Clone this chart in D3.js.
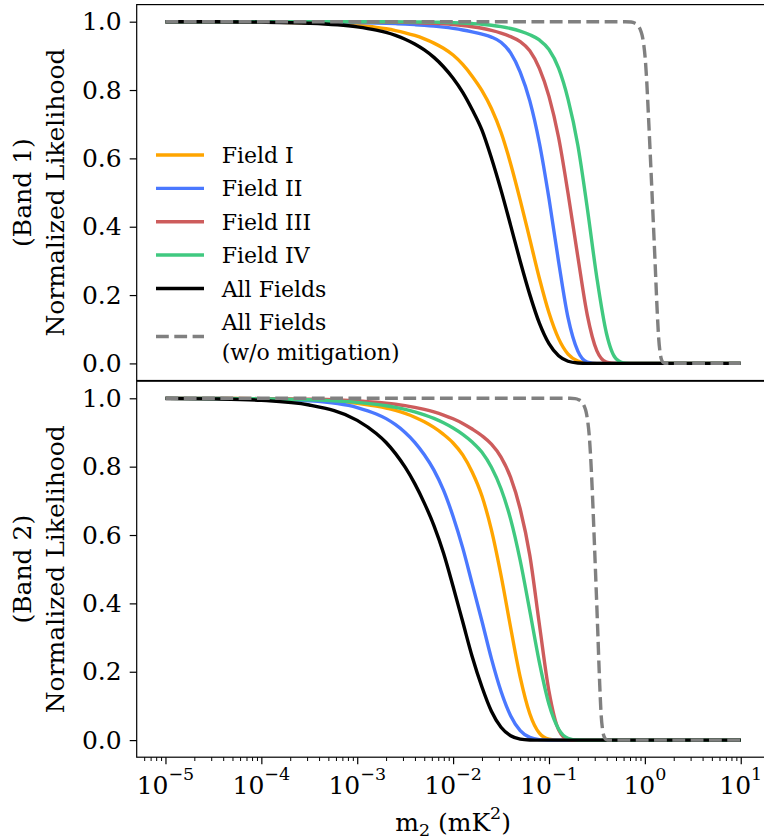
<!DOCTYPE html>
<html>
<head>
<meta charset="utf-8">
<script src="https://cdn.jsdelivr.net/npm/d3@7/dist/d3.min.js"></script>
<style>
  body { margin: 0; background: #ffffff; }
  svg { display: block; font-family: "DejaVu Serif", serif; }
</style>
</head>
<body>
<div id="chart"></div>
<script>
// m2 (mK^2) sample points shared by the field curves
const m2Grid = [1e-5, 3.16e-5, 1e-4, 3.16e-4, 1e-3, 0.00158, 0.002, 0.00251, 0.00316, 0.00398, 0.00501, 0.00631, 0.00794,
    0.01, 0.0126, 0.0158, 0.02, 0.0251, 0.0316, 0.0398, 0.0501, 0.0631, 0.0794,
    0.1, 0.126, 0.158, 0.2, 0.251, 0.316, 0.398, 0.501, 0.631, 0.794, 1, 10];

// Band 1 normalized likelihoods
const b1FieldI = [0.9999, 0.9996, 0.9989, 0.9965, 0.9894, 0.9834, 0.9792, 0.974, 0.9675, 0.9596, 0.9495, 0.9373, 0.9221,
    0.9023, 0.8748, 0.8405, 0.7982, 0.7459, 0.6763, 0.5845, 0.478, 0.3637, 0.2491,
    0.1481, 0.0725, 0.0272, 0.0071, 0.0011, 0, 0, 0, 0, 0, 0, 0];
const b1FieldII = [1, 0.9999, 0.9997, 0.9991, 0.9976, 0.9963, 0.9954, 0.9944, 0.9931, 0.9914, 0.9894, 0.987, 0.984,
    0.9803, 0.9758, 0.9702, 0.9634, 0.955, 0.94, 0.9086, 0.8526, 0.7683, 0.645,
    0.4824, 0.2976, 0.1339, 0.036, 0.004, 0, 0, 0, 0, 0, 0, 0];
const b1FieldIII = [1, 1, 0.9999, 0.9999, 0.9995, 0.9991, 0.9988, 0.9984, 0.9979, 0.9972, 0.9963, 0.9951, 0.9936,
    0.9915, 0.9888, 0.9853, 0.9807, 0.9746, 0.9667, 0.9563, 0.9419, 0.9151, 0.8636,
    0.7815, 0.661, 0.498, 0.312, 0.1413, 0.0366, 0.0038, 0, 0, 0, 0, 0];
const b1FieldIV = [1, 1, 1, 1, 0.9999, 0.9998, 0.9997, 0.9996, 0.9995, 0.9993, 0.999, 0.9986, 0.998,
    0.9972, 0.9961, 0.9946, 0.9926, 0.9897, 0.9856, 0.98, 0.9723, 0.9617, 0.9465,
    0.9184, 0.8639, 0.7734, 0.6383, 0.4543, 0.2501, 0.0875, 0.0138, 0.0006, 0, 0, 0];
const b1All = [0.9999, 0.9996, 0.9987, 0.9956, 0.9848, 0.9752, 0.9684, 0.9597, 0.9488, 0.9347, 0.9173, 0.8955, 0.8682,
    0.8344, 0.7932, 0.7429, 0.6825, 0.601, 0.507, 0.404, 0.299, 0.2013, 0.1179,
    0.0578, 0.0223, 0.0063, 0.0012, 0, 0, 0, 0, 0, 0, 0, 0];
// without mitigation: much sharper drop, sampled on its own points
const b1NoMit_m = [1e-5, 0.623, 0.719, 0.782, 0.841, 0.893, 0.937, 0.9716, 1.007, 1.044, 1.09, 1.178, 1.281, 1.344, 1.393, 1.444, 1.497, 1.571, 1.668, 10];
const b1NoMit = [1, 1, 0.999, 0.996, 0.99, 0.978, 0.96, 0.935, 0.895, 0.83, 0.725, 0.52, 0.29, 0.155, 0.075, 0.03, 0.01, 0.002, 0, 0];

// Band 2
const b2FieldI = [0.9998, 0.9995, 0.9984, 0.9952, 0.9854, 0.9771, 0.9715, 0.9644, 0.9556, 0.9447, 0.9312, 0.9147, 0.8944,
    0.8693, 0.8344, 0.7844, 0.714, 0.6148, 0.4822, 0.3296, 0.1845, 0.0772, 0.0203,
    0.0027, 0, 0, 0, 0, 0, 0, 0, 0, 0, 0, 0];
const b2FieldII = [0.9999, 0.9995, 0.9981, 0.9929, 0.973, 0.9541, 0.9405, 0.9227, 0.9, 0.8712, 0.8348, 0.7899, 0.7314,
    0.6542, 0.5623, 0.4579, 0.3478, 0.2385, 0.1431, 0.0715, 0.0279, 0.0079, 0.0014,
    0, 0, 0, 0, 0, 0, 0, 0, 0, 0, 0, 0];
const b2FieldIII = [0.9999, 0.9997, 0.9991, 0.9973, 0.9924, 0.9885, 0.9858, 0.9826, 0.9785, 0.9736, 0.9675, 0.9601, 0.951,
    0.94, 0.9265, 0.9101, 0.8905, 0.8658, 0.828, 0.7684, 0.6762, 0.5404, 0.3386,
    0.143, 0.0304, 0.0019, 0, 0, 0, 0, 0, 0, 0, 0, 0];
const b2FieldIV = [0.9998, 0.9994, 0.9984, 0.9957, 0.9881, 0.9822, 0.9783, 0.9735, 0.9676, 0.9604, 0.9517, 0.9413, 0.9285,
    0.9131, 0.8946, 0.8722, 0.8421, 0.7982, 0.7353, 0.6465, 0.5255, 0.3778, 0.2273,
    0.1049, 0.0324, 0.0054, 0.0004, 0, 0, 0, 0, 0, 0, 0, 0];
const b2All = [0.9995, 0.9982, 0.9941, 0.9803, 0.9353, 0.8969, 0.8707, 0.8382, 0.7984, 0.7504, 0.6934, 0.6277, 0.5474,
    0.4494, 0.3461, 0.2446, 0.1552, 0.0843, 0.0376, 0.0129, 0.0031, 0.0005, 0,
    0, 0, 0, 0, 0, 0, 0, 0, 0, 0, 0, 0];
const b2NoMit_m = [1e-5, 0.1661, 0.1873, 0.2037, 0.2189, 0.2325, 0.2439, 0.2529, 0.2622, 0.2718, 0.2818, 0.2992, 0.3216, 0.3374, 0.3498, 0.3627, 0.376, 0.3945, 0.4238, 10];
const b2NoMit = [1, 1, 0.999, 0.996, 0.99, 0.978, 0.96, 0.935, 0.895, 0.83, 0.74, 0.56, 0.33, 0.17, 0.075, 0.03, 0.01, 0.002, 0, 0];

// ticks and legend
const yTicks = [0, 0.2, 0.4, 0.6, 0.8, 1.0];
const xDecades = [-5, -4, -3, -2, -1, 0, 1];
const seriesNames = ["Field I", "Field II", "Field III", "Field IV", "All Fields", "All Fields\n(w/o mitigation)"];
const seriesColors = ["#ffa500", "#4a78ff", "#cd5c5c", "#40c980", "#000000", "#808080"];

const band1 = [
    [m2Grid, b1FieldI], [m2Grid, b1FieldII], [m2Grid, b1FieldIII],
    [m2Grid, b1FieldIV], [m2Grid, b1All], [b1NoMit_m, b1NoMit]
];
const band2 = [
    [m2Grid, b2FieldI], [m2Grid, b2FieldII], [m2Grid, b2FieldIII],
    [m2Grid, b2FieldIV], [m2Grid, b2All], [b2NoMit_m, b2NoMit]
];

const width = 764, height = 839;
const fontSize = 25;
const left = 136.7, right = 769.5;   // right spine falls just outside the crop

const panels = [
    { top: 4.6, bottom: 380.5, label: "(Band 1)", data: band1 },
    { top: 381.2, bottom: 757.2, label: "(Band 2)", data: band2 }
];

const svg = d3.select("#chart")
    .append("svg")
    .attr("width", width)
    .attr("height", height);

// log x with 5% padding either side
const x = d3.scaleLog()
    .domain([Math.pow(10, -5.3), Math.pow(10, 1.3)])
    .range([left, right]);

panels.forEach((p, pi) => {
    const y = d3.scaleLinear()
        .domain([-0.05, 1.05])
        .range([p.bottom, p.top]);

    const g = svg.append("g");

    const line = d3.line()
        .x(d => x(d[0]))
        .y(d => y(d[1]))
        .curve(d3.curveMonotoneX);

    // curves
    p.data.forEach((s, i) => {
        const pts = s[0].map((m, k) => [m, s[1][k]]);
        g.append("path")
            .datum(pts)
            .attr("d", line)
            .attr("fill", "none")
            .attr("stroke", seriesColors[i])
            .attr("stroke-width", 3.4)
            .attr("stroke-linejoin", "round")
            .attr("stroke-dasharray", i === 5 ? "12.8,5.5" : null);
    });

    // frame
    g.append("rect")
        .attr("x", left)
        .attr("y", p.top)
        .attr("width", right - left)
        .attr("height", p.bottom - p.top)
        .attr("fill", "none")
        .attr("stroke", "#000")
        .attr("stroke-width", 1.2);

    // y axis
    const yAxis = g.append("g")
        .attr("transform", "translate(" + left + ",0)")
        .call(d3.axisLeft(y).tickValues(yTicks).tickFormat(d3.format(".1f")).tickSize(7).tickPadding(8));
    yAxis.select(".domain").remove();
    yAxis.selectAll("line").attr("stroke-width", 1.2);
    yAxis.selectAll("text")
        .attr("font-size", fontSize)
        .attr("font-family", "DejaVu Serif")
        .attr("fill", "#000");

    // y label on two lines
    const cy = (p.top + p.bottom) / 2;
    g.append("text")
        .attr("transform", "translate(31," + cy + ") rotate(-90)")
        .attr("text-anchor", "middle")
        .attr("font-size", fontSize)
        .text(p.label);
    g.append("text")
        .attr("transform", "translate(64," + cy + ") rotate(-90)")
        .attr("text-anchor", "middle")
        .attr("font-size", fontSize)
        .text("Normalized Likelihood");

    // x axis only under the bottom panel
    if (pi === 1) {
        const minor = [];
        for (let e = -6; e <= 1; e++) {
            for (let k = 2; k <= 9; k++) {
                const v = k * Math.pow(10, e);
                if (v > x.domain()[0] && v < x.domain()[1]) minor.push(v);
            }
        }
        const xMinor = g.append("g")
            .attr("transform", "translate(0," + p.bottom + ")")
            .call(d3.axisBottom(x).tickValues(minor).tickFormat("").tickSize(3.8));
        xMinor.select(".domain").remove();
        xMinor.selectAll("line").attr("stroke-width", 1);

        const xMajor = g.append("g")
            .attr("transform", "translate(0," + p.bottom + ")")
            .call(d3.axisBottom(x).tickValues(xDecades.map(e => Math.pow(10, e))).tickFormat("").tickSize(7));
        xMajor.select(".domain").remove();
        xMajor.selectAll("line").attr("stroke-width", 1.2);

        xDecades.forEach(e => {
            const t = g.append("text")
                .attr("x", x(Math.pow(10, e)))
                .attr("y", 793.5)
                .attr("text-anchor", "middle")
                .attr("font-size", fontSize);
            t.append("tspan").text("10");
            t.append("tspan")
                .attr("dy", -14)
                .attr("font-size", fontSize * 0.7)
                .text(String(e).replace("-", "\u2212"));
        });

        // x label: m_2 (mK^2)
        const xl = g.append("text")
            .attr("x", (left + right) / 2)
            .attr("y", 830.5)
            .attr("text-anchor", "middle")
            .attr("font-size", fontSize);
        xl.append("tspan").text("m");
        xl.append("tspan").attr("dy", 5).attr("font-size", fontSize * 0.7).text("2");
        xl.append("tspan").attr("dy", -5).text(" (mK");
        xl.append("tspan").attr("dy", -12).attr("font-size", fontSize * 0.7).text("2");
        xl.append("tspan").attr("dy", 12).text(")");
    }

    // legend, no frame
    if (pi === 0) {
        const rows = [155, 188.4, 221.7, 255, 288.5, 336.5];
        const legend = g.append("g").attr("font-size", 22);
        seriesNames.forEach((name, i) => {
            legend.append("line")
                .attr("x1", 156).attr("x2", 204)
                .attr("y1", rows[i]).attr("y2", rows[i])
                .attr("stroke", seriesColors[i])
                .attr("stroke-width", 3.4)
                .attr("stroke-dasharray", i === 5 ? "12.8,5.5" : null);
            const parts = name.split("\n");
            parts.forEach((txt, j) => {
                legend.append("text")
                    .attr("x", 221.7)
                    .attr("y", rows[i] + 8 + (j - (parts.length - 1) / 2) * 30)
                    .text(txt);
            });
        });
    }
});
</script>
</body>
</html>
